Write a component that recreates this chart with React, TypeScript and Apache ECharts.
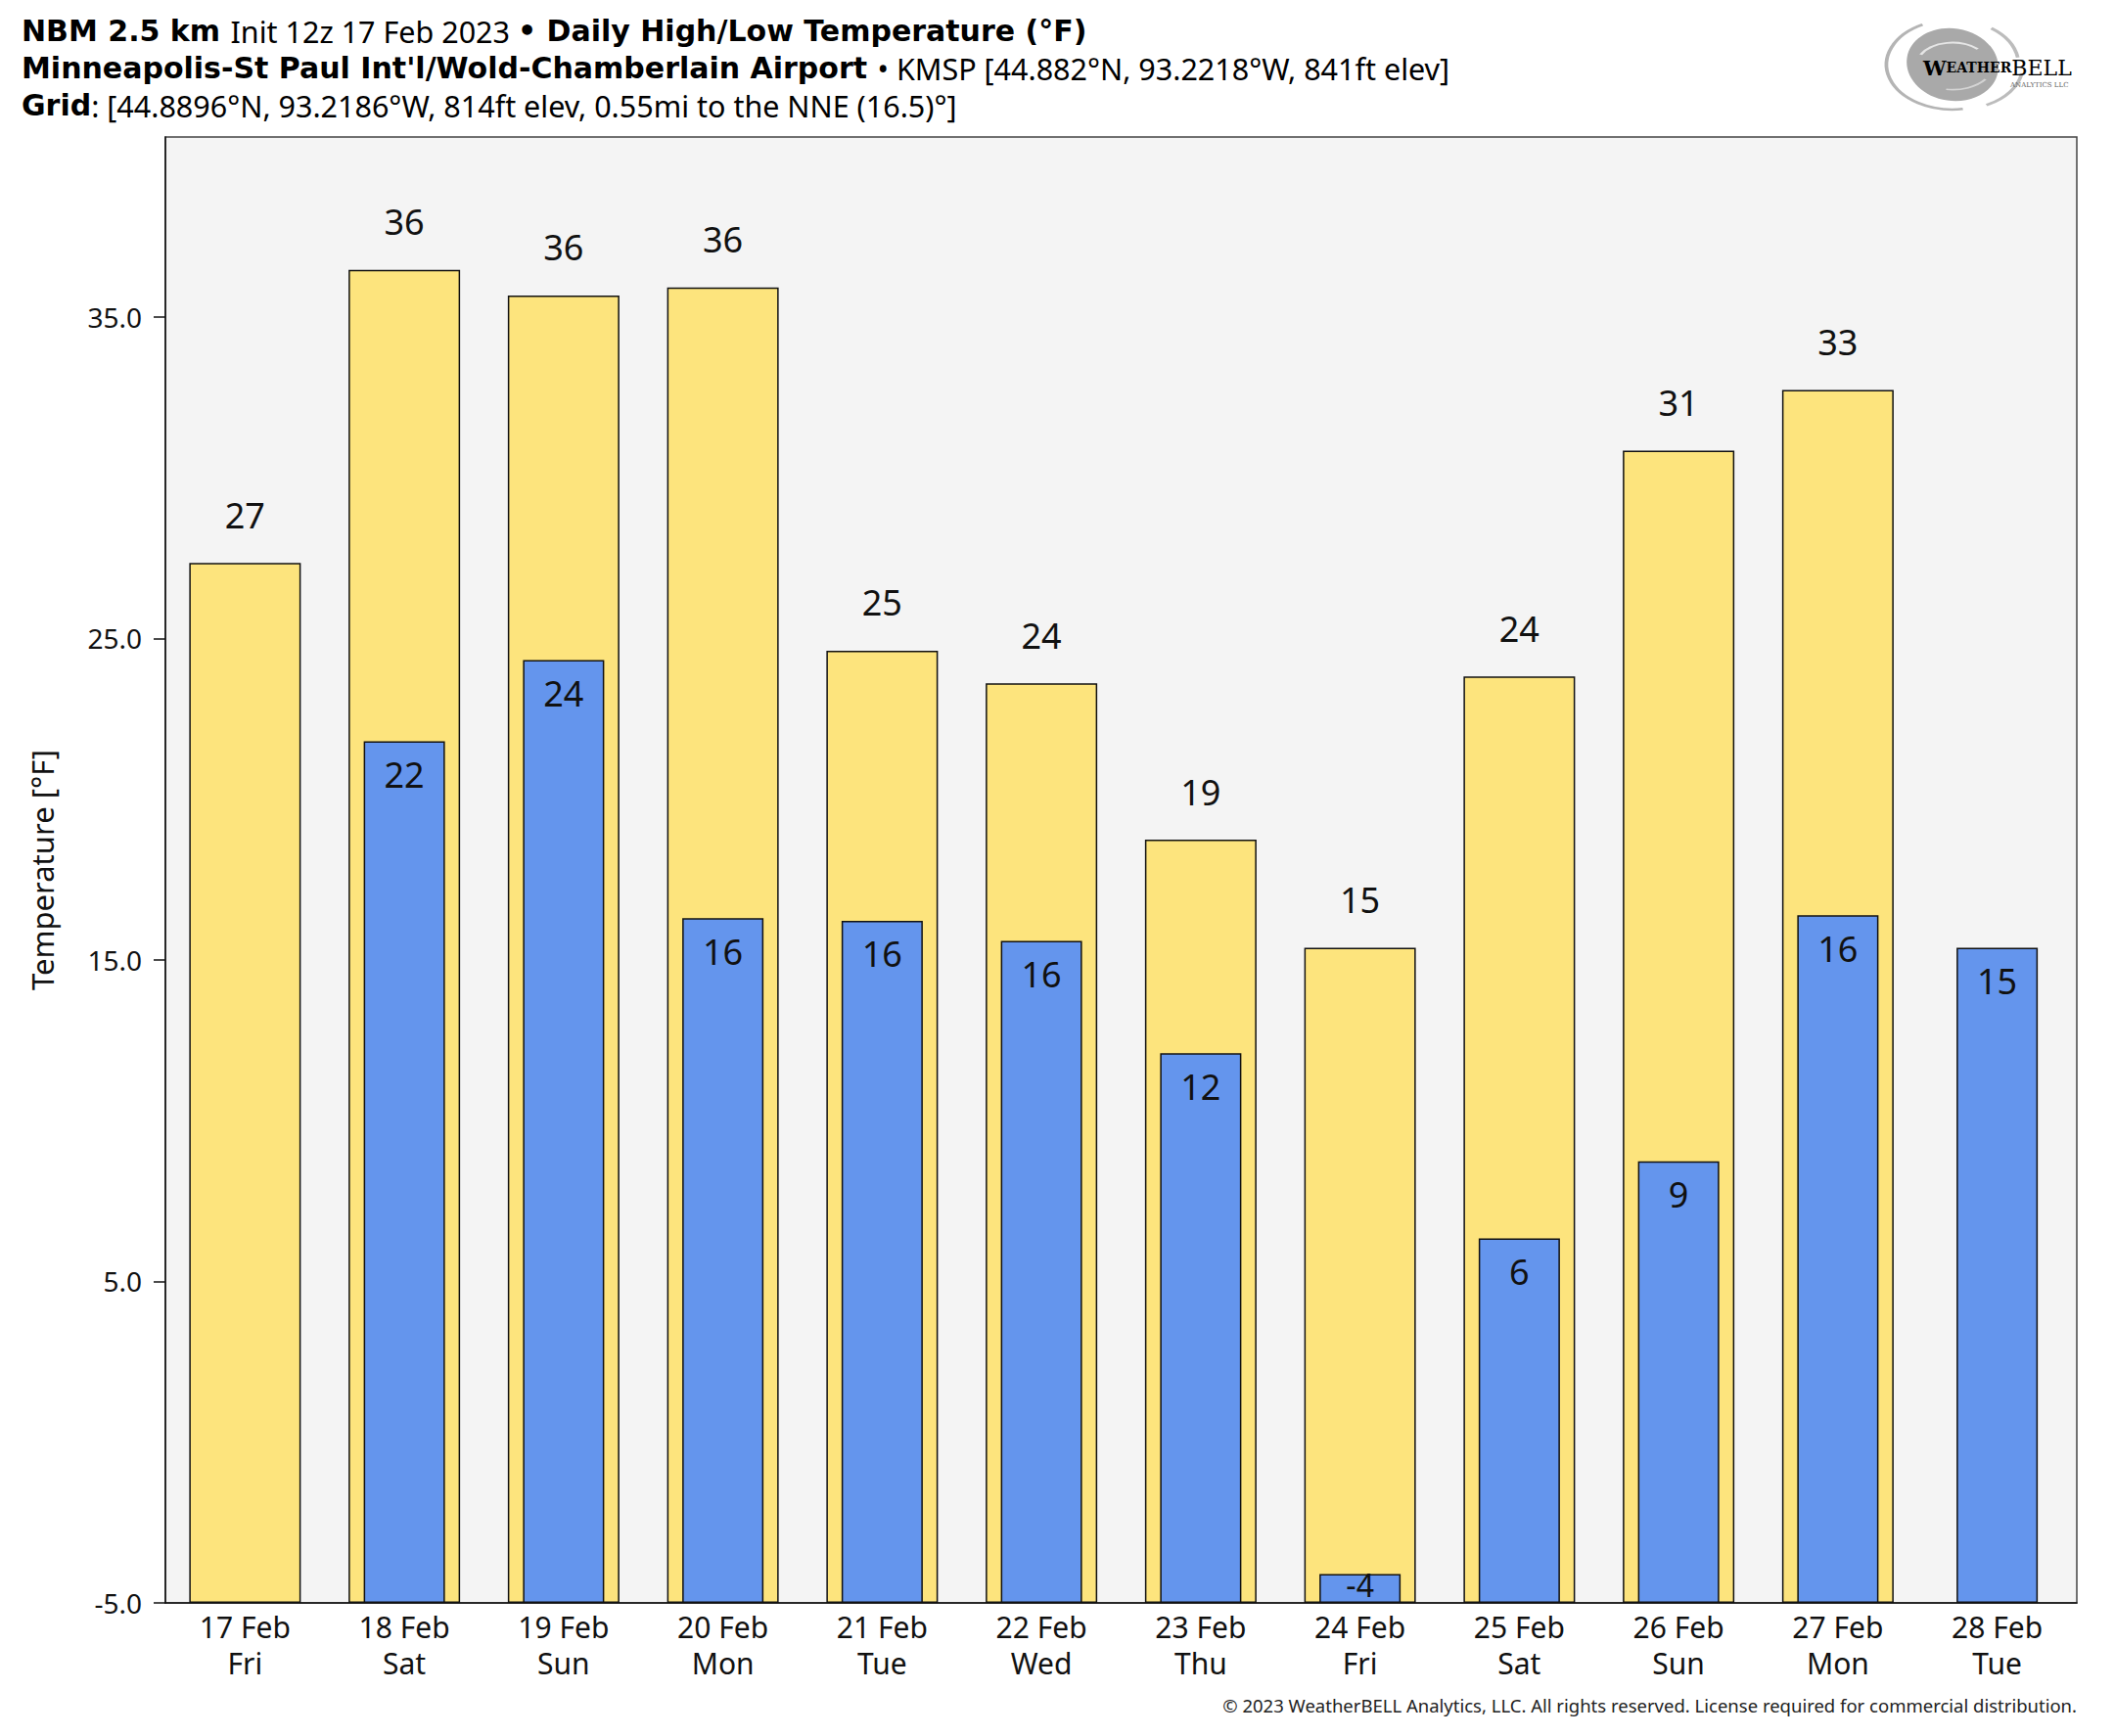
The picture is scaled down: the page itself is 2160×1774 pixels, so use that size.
import React, { useEffect, useRef } from "react";
import * as echarts from "echarts";

const categories = [
  "17 Feb\nFri", "18 Feb\nSat", "19 Feb\nSun", "20 Feb\nMon", "21 Feb\nTue", "22 Feb\nWed",
  "23 Feb\nThu", "24 Feb\nFri", "25 Feb\nSat", "26 Feb\nSun", "27 Feb\nMon", "28 Feb\nTue",
];
const highTemps = [27.35, 36.47, 35.67, 35.92, 24.62, 23.61, 18.74, 15.38, 23.82, 30.84, 32.73, null];
const lowTemps = [null, 21.8, 24.33, 16.3, 16.22, 15.59, 12.1, -4.1, 6.34, 8.74, 16.39, 15.38];
const yTicks = [-5, 5, 15, 25, 35];
const yMin = -5;
const yMax = 40.6;

const titleLine1 = "{b|NBM 2.5 km }{r|Init 12z 17 Feb 2023 }{b|• Daily High/Low Temperature (°F)}";
const titleLine2 = "{b|Minneapolis-St Paul Int'l/Wold-Chamberlain Airport }{r|• KMSP [44.882°N, 93.2218°W, 841ft elev]}";
const titleLine3 = "{b|Grid}{r|: [44.8896°N, 93.2186°W, 814ft elev, 0.55mi to the NNE (16.5)°]}";
const footer = "© 2023 WeatherBELL Analytics, LLC. All rights reserved. License required for commercial distribution.";

const FONT = "Noto Sans";

export default function App() {
  const ref = useRef<HTMLDivElement>(null);
  useEffect(() => {
    if (!ref.current) return;
    const chart = echarts.init(ref.current, null, { renderer: "svg" });
    const rich = {
      b: { fontFamily: "DejaVu Sans", fontSize: 30, fontWeight: "bold", color: "#111" },
      r: { fontFamily: FONT, fontSize: 30.5, fontWeight: "normal", color: "#111" },
    };
    const lowData = lowTemps.map((v) =>
      v !== null && v - yMin < 2
        ? { value: v, label: { distance: 0, lineHeight: 22, fontSize: 32 } }
        : v
    );
    const cx = 1995;
    const cy = 66;
    chart.setOption({
      animation: false,
      backgroundColor: "#ffffff",
      textStyle: { fontFamily: FONT },
      grid: {
        left: 169,
        right: 38,
        top: 140,
        bottom: 136,
        show: true,
        backgroundColor: "#f4f4f4",
        borderColor: "#444",
        borderWidth: 1.5,
      },
      xAxis: [
        {
          type: "category",
          data: categories,
          axisLine: { show: true, onZero: false, lineStyle: { color: "#111", width: 1.5 } },
          axisTick: { show: false },
          axisLabel: { fontFamily: FONT, fontSize: 30, color: "#111", lineHeight: 37, margin: 6 },
          splitLine: { show: false },
        },
        {
          type: "category",
          data: categories,
          show: false,
          axisLine: { onZero: false },
        },
      ],
      yAxis: {
        type: "value",
        min: yMin,
        max: yMax,
        startValue: yMin,
        name: "Temperature [°F]",
        nameLocation: "middle",
        nameGap: 111,
        nameTextStyle: { fontFamily: FONT, fontSize: 31, color: "#111" },
        axisLine: { show: true, lineStyle: { color: "#111", width: 1.5 } },
        axisTick: { show: true, length: 12, lineStyle: { color: "#111", width: 1.5 }, customValues: yTicks },
        axisLabel: {
          fontFamily: FONT,
          fontSize: 28,
          color: "#111",
          margin: 24,
          customValues: yTicks,
          formatter: (v: number) => v.toFixed(1),
        },
        splitLine: { show: false },
      },
      series: [
        {
          name: "High",
          type: "bar",
          xAxisIndex: 0,
          data: highTemps,
          barWidth: 114,
          itemStyle: { color: "#fde47d", borderColor: "#111", borderWidth: 1.5 },
          label: {
            show: true,
            position: "top",
            distance: 31,
            fontFamily: FONT,
            fontSize: 36,
            color: "#111",
            formatter: (p: any) => String(Math.round(p.value)),
          },
        },
        {
          name: "Low",
          type: "bar",
          xAxisIndex: 1,
          data: lowData,
          barWidth: 83,
          itemStyle: { color: "#6495ed", borderColor: "#111", borderWidth: 1.5 },
          label: {
            show: true,
            position: "insideTop",
            distance: 16,
            fontFamily: FONT,
            fontSize: 36,
            color: "#111",
            formatter: (p: any) => String(Math.round(p.value)),
          },
        },
      ],
      graphic: [
        { type: "text", left: 22, top: 16, style: { text: titleLine1, rich } },
        { type: "text", left: 22, top: 54, style: { text: titleLine2, rich } },
        { type: "text", left: 22, top: 92, style: { text: titleLine3, rich } },
        {
          type: "text",
          right: 38,
          top: 1733,
          style: { text: footer, fontFamily: FONT, fontSize: 18.5, fill: "#222" },
        },
        {
          type: "group",
          children: [
            {
              type: "arc",
              x: cx,
              y: cy,
              scaleX: 1.25,
              scaleY: 0.85,
              shape: { cx: 0, cy: 0, r: 54, startAngle: Math.PI * 0.45, endAngle: Math.PI * 1.35 },
              style: { stroke: "#b4b4b4", lineWidth: 3, fill: "none" },
            },
            {
              type: "arc",
              x: cx,
              y: cy,
              scaleX: 1.25,
              scaleY: 0.85,
              shape: { cx: 0, cy: 0, r: 54, startAngle: Math.PI * 1.7, endAngle: Math.PI * 1.95 },
              style: { stroke: "#bcbcbc", lineWidth: 3, fill: "none" },
            },
            {
              type: "arc",
              x: cx + 4,
              y: cy + 2,
              scaleX: 1.3,
              scaleY: 0.85,
              shape: { cx: 0, cy: 0, r: 52, startAngle: Math.PI * 0.05, endAngle: Math.PI * 0.35 },
              style: { stroke: "#bcbcbc", lineWidth: 3, fill: "none" },
            },
            {
              type: "ellipse",
              x: cx,
              y: cy,
              rotation: -0.15,
              shape: { cx: 0, cy: 0, rx: 47, ry: 37 },
              style: { fill: "#a9a9a9" },
            },
            {
              type: "arc",
              x: cx,
              y: cy,
              scaleX: 1.3,
              scaleY: 0.8,
              shape: { cx: 0, cy: 0, r: 28, startAngle: Math.PI * 1.15, endAngle: Math.PI * 1.75 },
              style: { stroke: "#e6e6e6", lineWidth: 2.5, fill: "none" },
            },
            {
              type: "arc",
              x: cx,
              y: cy,
              scaleX: 1.3,
              scaleY: 0.8,
              shape: { cx: 0, cy: 0, r: 32, startAngle: Math.PI * 0.2, endAngle: Math.PI * 0.55 },
              style: { stroke: "#d4d4d4", lineWidth: 2, fill: "none" },
            },
            {
              type: "text",
              x: 1965,
              y: 80,
              style: {
                text: "{w|W}{e|EATHER}{bell|BELL}",
                verticalAlign: "bottom",
                rich: {
                  w: { fontFamily: "DejaVu Serif", fontSize: 21, color: "#444", fontWeight: "bold" },
                  e: { fontFamily: "DejaVu Serif", fontSize: 14, color: "#444", fontWeight: "bold" },
                  bell: { fontFamily: "DejaVu Serif", fontSize: 22, color: "#707070" },
                },
              },
            },
            {
              type: "text",
              x: 2054,
              y: 83,
              style: { text: "ANALYTICS LLC", fontFamily: "DejaVu Serif", fontSize: 7, fill: "#666" },
            },
          ],
        },
      ],
    });
    return () => chart.dispose();
  }, []);
  return (
    <div
      ref={ref}
      style={{ position: "fixed", left: 0, top: 0, width: 2160, height: 1774 }}
    />
  );
}
